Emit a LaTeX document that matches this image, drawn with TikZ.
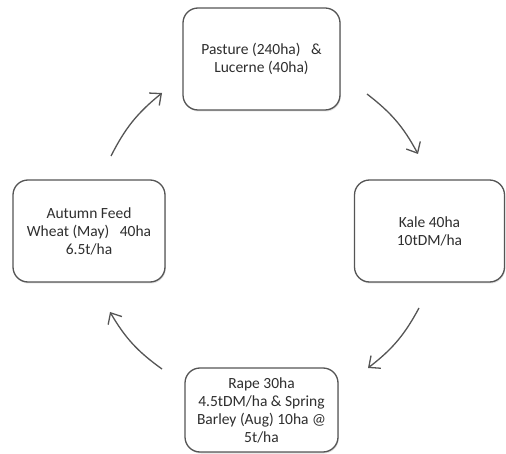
\documentclass[tikz,border=0pt]{standalone}
\usepackage{fontspec}
\setmainfont{Carlito}
\usetikzlibrary{arrows.meta,shadows}
\definecolor{edge}{HTML}{555555}
\definecolor{txt}{HTML}{2E2E2E}
\tikzset{
  stagebox/.style={draw=edge, line width=1.3pt, rounded corners=15pt, fill=white,
    drop shadow={opacity=0.25, shadow xshift=0.8pt, shadow yshift=-1.5pt},
    align=center, text=txt, inner sep=0pt,
    font=\fontsize{15.5}{18}\selectfont},
  cyclearrow/.style={draw=edge, line width=1.3pt,
    -{Straight Barb[length=9pt,width=16pt,line width=1.3pt]}}
}
\begin{document}
\begin{tikzpicture}[x=1pt,y=-1pt]
\useasboundingbox (0,0) rectangle (506,454);
\node[stagebox, minimum width=157pt, minimum height=102pt] (top) at (261.5,59)
  {Pasture (240ha)\ \ \ \&\\Lucerne (40ha)};
\node[stagebox, minimum width=150pt, minimum height=102pt] (right) at (429.5,231)
  {Kale 40ha\\10tDM/ha};
\node[stagebox, minimum width=152pt, minimum height=102pt] (left) at (89,231)
  {Autumn Feed\\Wheat (May)\ \ \ 40ha\\6.5t/ha};
\node[stagebox, minimum width=153pt, minimum height=84pt] (bottom) at (261.5,410)
  {Rape 30ha\\4.5tDM/ha \& Spring\\Barley (Aug) 10ha @\\5t/ha};
\coordinate (a1s) at (111,156);
\coordinate (a1e) at (162,93);
\coordinate (a2s) at (367,94);
\coordinate (a2e) at (418,154);
\coordinate (a3s) at (419,308);
\coordinate (a3e) at (368,368);
\coordinate (a4s) at (162,369);
\coordinate (a4e) at (110,312);
\draw[cyclearrow] (a1s) to[bend left=12] (a1e);
\draw[cyclearrow] (a2s) to[bend left=12] (a2e);
\draw[cyclearrow] (a3s) to[bend left=12] (a3e);
\draw[cyclearrow] (a4s) to[bend left=12] (a4e);
\end{tikzpicture}
\end{document}
